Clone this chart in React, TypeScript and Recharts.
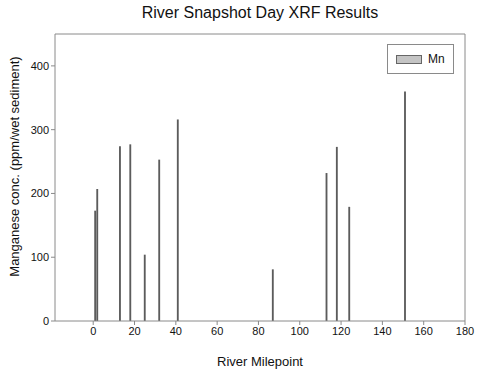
import { BarChart, Bar, XAxis, YAxis, ReferenceLine, Legend, Label } from "recharts";

const milepoints = [1, 2, 13, 18, 25, 32, 41, 87, 113, 118, 124, 151];
const manganese = [173, 207, 274, 277, 104, 253, 316, 81, 232, 273, 179, 360];
const xTicks = [0, 20, 40, 60, 80, 100, 120, 140, 160, 180];
const yTicks = [0, 100, 200, 300, 400];

const data = milepoints.map((mp, i) => ({ mp, mn: manganese[i] }));

const font = "'Liberation Sans', Arial, sans-serif";
const axisGray = "#8a8a8a";

function MnLegend() {
  return (
    <div style={{
      width: 65, height: 28, border: `1px solid ${axisGray}`, background: "#fff",
      display: "flex", alignItems: "center", fontFamily: font, fontSize: 12, color: "#111",
    }}>
      <span style={{ display: "inline-block", width: 24, height: 7, background: "#c4c4c4", border: "1px solid #666", marginLeft: 8, marginRight: 6 }} />
      Mn
    </div>
  );
}

// rotated y-axis title, set a bit above the plot centre like the original
function YTitle(props: any) {
  const vb = props.viewBox || {};
  const cx = 14;
  const cy = (vb.y ?? 34) + (vb.height ?? 287) / 2 - 11;
  return (
    <text x={cx} y={cy} transform={`rotate(-90, ${cx}, ${cy})`} textAnchor="middle" dominantBaseline="central"
      fontSize={13} fill="#111" fontFamily={font}>
      Manganese conc. (ppm/wet sediment)
    </text>
  );
}

export default function App() {
  return (
    <div style={{ position: "absolute", left: 0, top: 0, width: 500, height: 371, background: "#fff", fontFamily: font }}>
      <div style={{ position: "absolute", top: 3, left: 55, width: 410, textAlign: "center", fontSize: 16, lineHeight: "20px", color: "#111" }}>
        River Snapshot Day XRF Results
      </div>
      <BarChart width={500} height={371} data={data} margin={{ top: 34, right: 35, bottom: 0, left: 0 }}>
        <XAxis
          dataKey="mp" type="number" domain={[-18.5, 180]} ticks={xTicks} allowDataOverflow
          height={50} tickSize={4} stroke={axisGray}
          tick={{ fontSize: 11, fill: "#111", fontFamily: font }}
          label={{ value: "River Milepoint", position: "insideBottom", offset: 5, fontSize: 13, fill: "#111", fontFamily: font }}
        />
        <YAxis
          type="number" domain={[0, 450]} ticks={yTicks} allowDataOverflow
          width={55} tickSize={4} stroke={axisGray}
          tick={{ fontSize: 11, fill: "#111", fontFamily: font }}
        >
          <Label content={<YTitle />} />
        </YAxis>
        <ReferenceLine y={450} stroke={axisGray} />
        <ReferenceLine x={180} stroke={axisGray} />
        <Legend
          layout="vertical" verticalAlign="middle" align="center"
          content={() => <MnLegend />}
          wrapperStyle={{ position: "absolute", top: 44, left: 387, width: 67, height: 30 }}
        />
        <Bar dataKey="mn" name="Mn" fill="#5c5c5c" barSize={3} isAnimationActive={false} />
      </BarChart>
    </div>
  );
}
